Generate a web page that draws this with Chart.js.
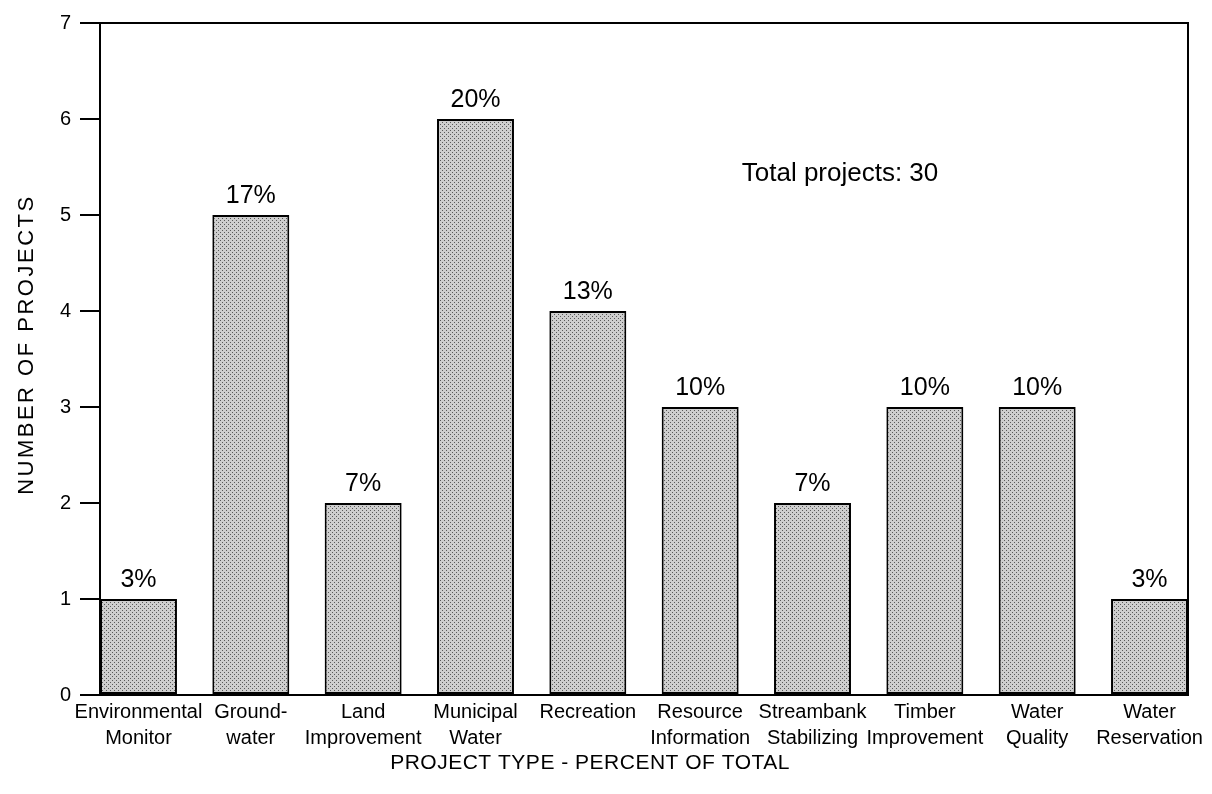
<!DOCTYPE html>
<html>
<head>
<meta charset="utf-8">
<script src="https://cdn.jsdelivr.net/npm/chart.js@4.4.1/dist/chart.umd.min.js"></script>
<style>
html,body{margin:0;padding:0;background:#fff}
#wrap{width:1212px;height:794px}
</style>
</head>
<body>
<div id="wrap"><canvas id="projectChart"></canvas></div>
<script>
const categories = [
    ["Environmental","Monitor"],
    ["Ground-","water"],
    ["Land","Improvement"],
    ["Municipal","Water"],
    ["Recreation"],
    ["Resource","Information"],
    ["Streambank","Stabilizing"],
    ["Timber","Improvement"],
    ["Water","Quality"],
    ["Water","Reservation"]
];
const projectCounts = [1,5,2,6,4,3,2,3,3,1];
const percentLabels = ["3%","17%","7%","20%","13%","10%","7%","10%","10%","3%"];
const yTicks = [0,1,2,3,4,5,6,7];
const totalNote = "Total projects: 30";
const xTitle = "PROJECT TYPE - PERCENT OF TOTAL";
const yTitle = "NUMBER OF PROJECTS";

const FONT = '"Liberation Sans", Arial, Helvetica, sans-serif';
Chart.defaults.font.family = FONT;
Chart.defaults.color = '#000';

// stipple fill like the printed halftone
function stipple(){
    const c = document.createElement('canvas');
    c.width = 4; c.height = 4;
    const g = c.getContext('2d');
    g.fillStyle = '#cecece';
    g.fillRect(0,0,4,4);
    g.fillStyle = '#595959';
    g.fillRect(0,0,1,1);
    g.fillRect(2,2,1,1);
    return g.createPattern(c,'repeat');
}

const extras = {
    id:'extras',
    afterDatasetsDraw(chart){
        const ctx = chart.ctx;
        const a = chart.chartArea;
        const xs = chart.scales.x, ys = chart.scales.y;
        ctx.save();
        // frame top and right
        ctx.strokeStyle = '#000';
        ctx.lineWidth = 2;
        ctx.beginPath();
        ctx.moveTo(a.left, a.top);
        ctx.lineTo(a.right, a.top);
        ctx.lineTo(a.right, a.bottom);
        ctx.stroke();

        // percent labels
        ctx.fillStyle = '#000';
        ctx.font = '25px ' + FONT;
        ctx.textAlign = 'center';
        ctx.textBaseline = 'bottom';
        chart.getDatasetMeta(0).data.forEach((bar,i) => {
            ctx.fillText(percentLabels[i], bar.x, bar.y - 6);
        });

        // total note
        ctx.font = '26px ' + FONT;
        ctx.textAlign = 'left';
        ctx.textBaseline = 'alphabetic';
        ctx.fillText(totalNote, xs.getPixelForValue(5.37), ys.getPixelForValue(5.35));

        // axis titles
        ctx.font = '21px ' + FONT;
        ctx.textAlign = 'center';
        ctx.textBaseline = 'middle';
        ctx.letterSpacing = '0.5px';
        ctx.fillText(xTitle, xs.getPixelForValue(4.02), xs.bottom - 31);

        ctx.font = '22px ' + FONT;
        ctx.letterSpacing = '2.5px';
        ctx.translate(27, ys.getPixelForValue(3.65));
        ctx.rotate(-Math.PI/2);
        ctx.fillText(yTitle, 0, 0);
        ctx.restore();
    }
};

new Chart(document.getElementById('projectChart').getContext('2d'), {
    type:'bar',
    data:{
        datasets:[{
            data: projectCounts.map((v,i) => ({x:i, y:v})),
            backgroundColor: stipple(),
            borderColor:'#000',
            borderWidth:2,
            borderSkipped:false,
            barPercentage:0.685,
            categoryPercentage:1
        }]
    },
    options:{
        responsive:true,
        maintainAspectRatio:false,
        animation:false,
        layout:{ padding:{ top:23, right:24, left:0, bottom:0 } },
        plugins:{ legend:{display:false}, tooltip:{enabled:false} },
        scales:{
            x:{
                type:'linear',
                offset:false,
                min:-0.3425,
                max:9.3425,
                afterBuildTicks: s => { s.ticks = categories.map((c,i) => ({value:i})); },
                afterFit: s => { s.height = 99; },
                ticks:{
                    autoSkip:false,
                    maxRotation:0,
                    padding:4,
                    font:{ size:20, lineHeight:1.3 },
                    callback: v => categories[v]
                },
                grid:{ display:false, drawTicks:false },
                border:{ display:true, color:'#000', width:2 }
            },
            y:{
                min:0,
                max:7,
                afterBuildTicks: s => { s.ticks = yTicks.map(v => ({value:v})); },
                afterFit: s => { s.width = 100; },
                ticks:{ font:{ size:20 }, padding:9 },
                grid:{ drawOnChartArea:false, drawTicks:true, tickLength:20, color:'#000', lineWidth:2 },
                border:{ display:true, color:'#000', width:2 }
            }
        }
    },
    plugins:[extras]
});
</script>
</body>
</html>
